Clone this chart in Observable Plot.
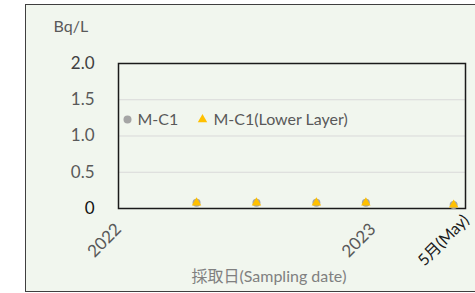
<!DOCTYPE html>
<html>
<head>
<meta charset="utf-8">
<script src="https://cdn.jsdelivr.net/npm/d3@7"></script>
<script src="https://cdn.jsdelivr.net/npm/@observablehq/plot@0.6"></script>
<style>
  html, body { margin: 0; padding: 0; background: #ffffff; }
  #wrap { position: relative; width: 475px; height: 293px; overflow: hidden; font-family: Lato, "Noto Sans CJK JP", sans-serif; }
  #bg { position: absolute; left: 25px; top: 4px; width: 520px; height: 286px; background: #f1f6ee; border: 1.6px solid #3f3f3f; }
  #chart { position: absolute; left: 0; top: 0; }
</style>
</head>
<body>
<div id="wrap"><div id="bg"></div><div id="chart"></div></div>
<script>
// ---- data ----
const sampleDates = ["2022-04-23", "2022-07-18", "2022-10-12", "2022-12-22", "2023-04-27"];
const mc1 = [0.08, 0.08, 0.08, 0.08, 0.05];
const mc1Lower = [0.08, 0.08, 0.08, 0.08, 0.05];
const seriesNames = ["M-C1", "M-C1(Lower Layer)"];
const yTicks = [0, 0.5, 1, 1.5, 2];
const yearTicks = ["2022-01-01", "2023-01-01"];
const mayTick = "2023-05-01";
const mayLabel = "5月(May)";
const xDomain = ["2022-01-01", "2023-05-14"];
const yLabel = "Bq/L";
const xTitle = "採取日(Sampling date)";

const parse = d3.utcParse("%Y-%m-%d");
const rows = sampleDates.map((d, i) => ({date: parse(d), value: mc1[i], series: seriesNames[0]}));
const rowsLower = sampleDates.map((d, i) => ({date: parse(d), value: mc1Lower[i], series: seriesNames[1]}));

const font = "Lato, 'Noto Sans CJK JP', sans-serif";

const plot = Plot.plot({
  width: 475,
  height: 293,
  marginLeft: 118,
  marginRight: 10,
  marginTop: 63,
  marginBottom: 85,
  style: {background: "transparent", fontFamily: font, overflow: "visible"},
  x: {type: "utc", domain: xDomain.map(parse)},
  y: {domain: [0, 2]},
  marks: [
    Plot.gridY([0.5, 1, 1.5], {stroke: "#d9d9d9", strokeOpacity: 1, strokeWidth: 1}),
    Plot.frame({stroke: "#1a1a1a", strokeWidth: 1.5}),
    Plot.axisY(yTicks.filter(d => d > 0 && d < 2), {tickSize: 0, tickPadding: 24, fontSize: 17, fill: "#595959", tickFormat: d => d.toFixed(1), label: null}),
    Plot.axisY([2], {tickSize: 0, tickPadding: 24, fontSize: 17, fill: "#404040", tickFormat: d => d.toFixed(1), label: null}),
    Plot.axisY([0], {tickSize: 0, tickPadding: 24, fontSize: 17, fill: "#111111", tickFormat: () => "0", label: null}),
    Plot.axisX(yearTicks.map(parse), {tickSize: 0, tickPadding: 18, tickRotate: -45, fontSize: 17, fill: "#595959", tickFormat: "%Y", label: null}),
    Plot.axisX([parse(mayTick)], {tickSize: 0, tickPadding: 9, tickRotate: -45, fontSize: 16, fill: "#1a1a1a", tickFormat: () => mayLabel, label: null, dx: 10}),
    Plot.dot(rows, {x: "date", y: "value", r: 4, fill: "#a5a5a5", symbol: "circle"}),
    Plot.dot(rowsLower, {x: "date", y: "value", r: 3.5, fill: "#ffc000", symbol: "triangle"}),
    // legend
    Plot.dot([seriesNames[0]], {frameAnchor: "top-left", dx: 9, dy: 56, r: 4, fill: "#a5a5a5", symbol: "circle"}),
    Plot.text([seriesNames[0]], {frameAnchor: "top-left", lineAnchor: "middle", dx: 19, dy: 56, text: d => d, textAnchor: "start", fontSize: 16, fill: "#595959"}),
    Plot.dot([seriesNames[1]], {frameAnchor: "top-left", dx: 84, dy: 56, r: 3.5, fill: "#ffc000", symbol: "triangle"}),
    Plot.text([seriesNames[1]], {frameAnchor: "top-left", lineAnchor: "middle", dx: 95, dy: 56, text: d => d, textAnchor: "start", fontSize: 16, fill: "#595959"}),
    // y unit label
    Plot.text([yLabel], {frameAnchor: "top-left", lineAnchor: "middle", dx: -65, dy: -37, text: d => d, textAnchor: "start", fontSize: 16, fill: "#595959"}),
    // x title
    Plot.text([xTitle], {frameAnchor: "bottom", lineAnchor: "middle", dx: -23, dy: 68, text: d => d, fontSize: 16, fill: "#808080"})
  ]
});
document.getElementById("chart").appendChild(plot);
</script>
</body>
</html>
